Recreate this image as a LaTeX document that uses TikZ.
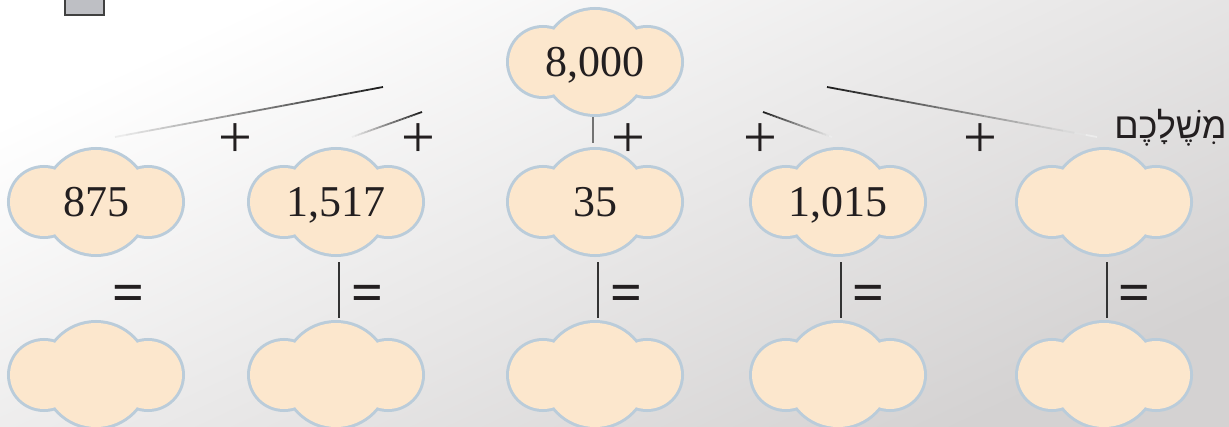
\documentclass[tikz,border=0pt]{standalone}
\usepackage{fontspec}
\setmainfont{Liberation Serif}
\newfontfamily\hebfont[Script=Hebrew]{Liberation Sans}
\TeXXeTstate=1
\usetikzlibrary{calc}
\definecolor{puffin}{RGB}{252,231,205}
\definecolor{puffrim}{RGB}{186,204,218}
\definecolor{boxgray}{RGB}{190,191,196}
\definecolor{bggray}{RGB}{212,210,210}
\definecolor{ink}{RGB}{35,31,32}

% cloud: name, centre, text
\newcommand\puff[3]{%
  \draw[puffrim,line width=3pt] (#2) +(-26pt,0) circle (17pt) +(26pt,0) circle (17pt) +(0,0) circle (26pt);
  \fill[puffin] (#2) +(-26pt,0) circle (17pt) +(26pt,0) circle (17pt) +(0,0) circle (26pt);
  \node[puffbox] (#1) at (#2) {#3};}
% line that fades from dark (first end) to white
\newcommand\fadeline[2]{%
  \foreach \ka [evaluate=\ka as \kb using \ka/24, evaluate=\ka as \kc using (\ka+1)/24,
                evaluate=\ka as \kd using 88-3.5*\ka] in {0,...,23}
    {\draw[line width=0.9pt,black!\kd] ($(#1)!\kb!(#2)$) -- ($(#1)!\kc!(#2)$);}}

\begin{document}
\begin{tikzpicture}[x=0.5pt,y=-0.5pt,
  puffbox/.style={circle,minimum size=52pt,inner sep=0pt,text=ink,font=\fontsize{22}{24}\selectfont,text height=14.5pt,text depth=0pt},
  sign/.style={inner sep=0pt,text=ink,font=\fontsize{30}{32}\selectfont},
  bar/.style={line width=0.8pt,black!80}]
\shade[shading=axis,top color=white,bottom color=bggray,shading angle=25] (0,0) rectangle (1229,427);
\useasboundingbox (0,0) rectangle (1229,427);
\draw[fill=boxgray,draw=black!75,line width=0.9pt] (65,-10) rectangle (104,15);

\puff{top}{595,62}{8,000}
\puff{s1}{96,202}{875}
\puff{s2}{336,202}{1,517}
\puff{s3}{595,202}{35}
\puff{s4}{838,202}{1,015}
\puff{s5}{1104,202}{}
\puff{r1}{96,375}{}
\puff{r2}{336,375}{}
\puff{r3}{595,375}{}
\puff{r4}{838,375}{}
\puff{r5}{1104,375}{}

\coordinate (a1) at ($(top)+(-212,25)$); \coordinate (b1) at ($(s1)+(19,-65)$);
\coordinate (a2) at ($(top)+(-173,50)$); \coordinate (b2) at ($(s2)+(16,-65)$);
\coordinate (a4) at ($(top)+(168,50)$);  \coordinate (b4) at ($(s4)+(-6,-65)$);
\coordinate (a5) at ($(top)+(232,25)$);  \coordinate (b5) at ($(s5)+(-7,-65)$);
\fadeline{a1}{b1} \fadeline{a2}{b2} \fadeline{a4}{b4} \fadeline{a5}{b5}
\draw[line width=0.8pt,black!55] ($(top.south)+(-2,3)$) -- ($(s3.north)+(-2,-7)$);

\node[sign] (p1) at (235,141) {+};
\node[sign] (p2) at (418,141) {+};
\node[sign] (p3) at (628,141) {+};
\node[sign] (p4) at (760,141) {+};
\node[sign] (p5) at (980,141) {+};
\node[text=ink,font=\hebfont\fontsize{18}{20}\selectfont,inner sep=0pt,anchor=base east] (mine) at (1227,139) {\beginR מִשֶׁלָכֶם\endR};

\node[sign,font=\bfseries\fontsize{28}{30}\selectfont] (e1) at (128,298) {=};
\node[sign,font=\bfseries\fontsize{28}{30}\selectfont] (e2) at (367,298) {=};
\node[sign,font=\bfseries\fontsize{28}{30}\selectfont] (e3) at (626,298) {=};
\node[sign,font=\bfseries\fontsize{28}{30}\selectfont] (e4) at (868,298) {=};
\node[sign,font=\bfseries\fontsize{28}{30}\selectfont] (e5) at (1134,298) {=};
\foreach \n in {2,...,5}
  \draw[bar] ($(s\n.south)+(3,8)$) -- ($(r\n.north)+(3,-5)$);
\end{tikzpicture}
\end{document}
